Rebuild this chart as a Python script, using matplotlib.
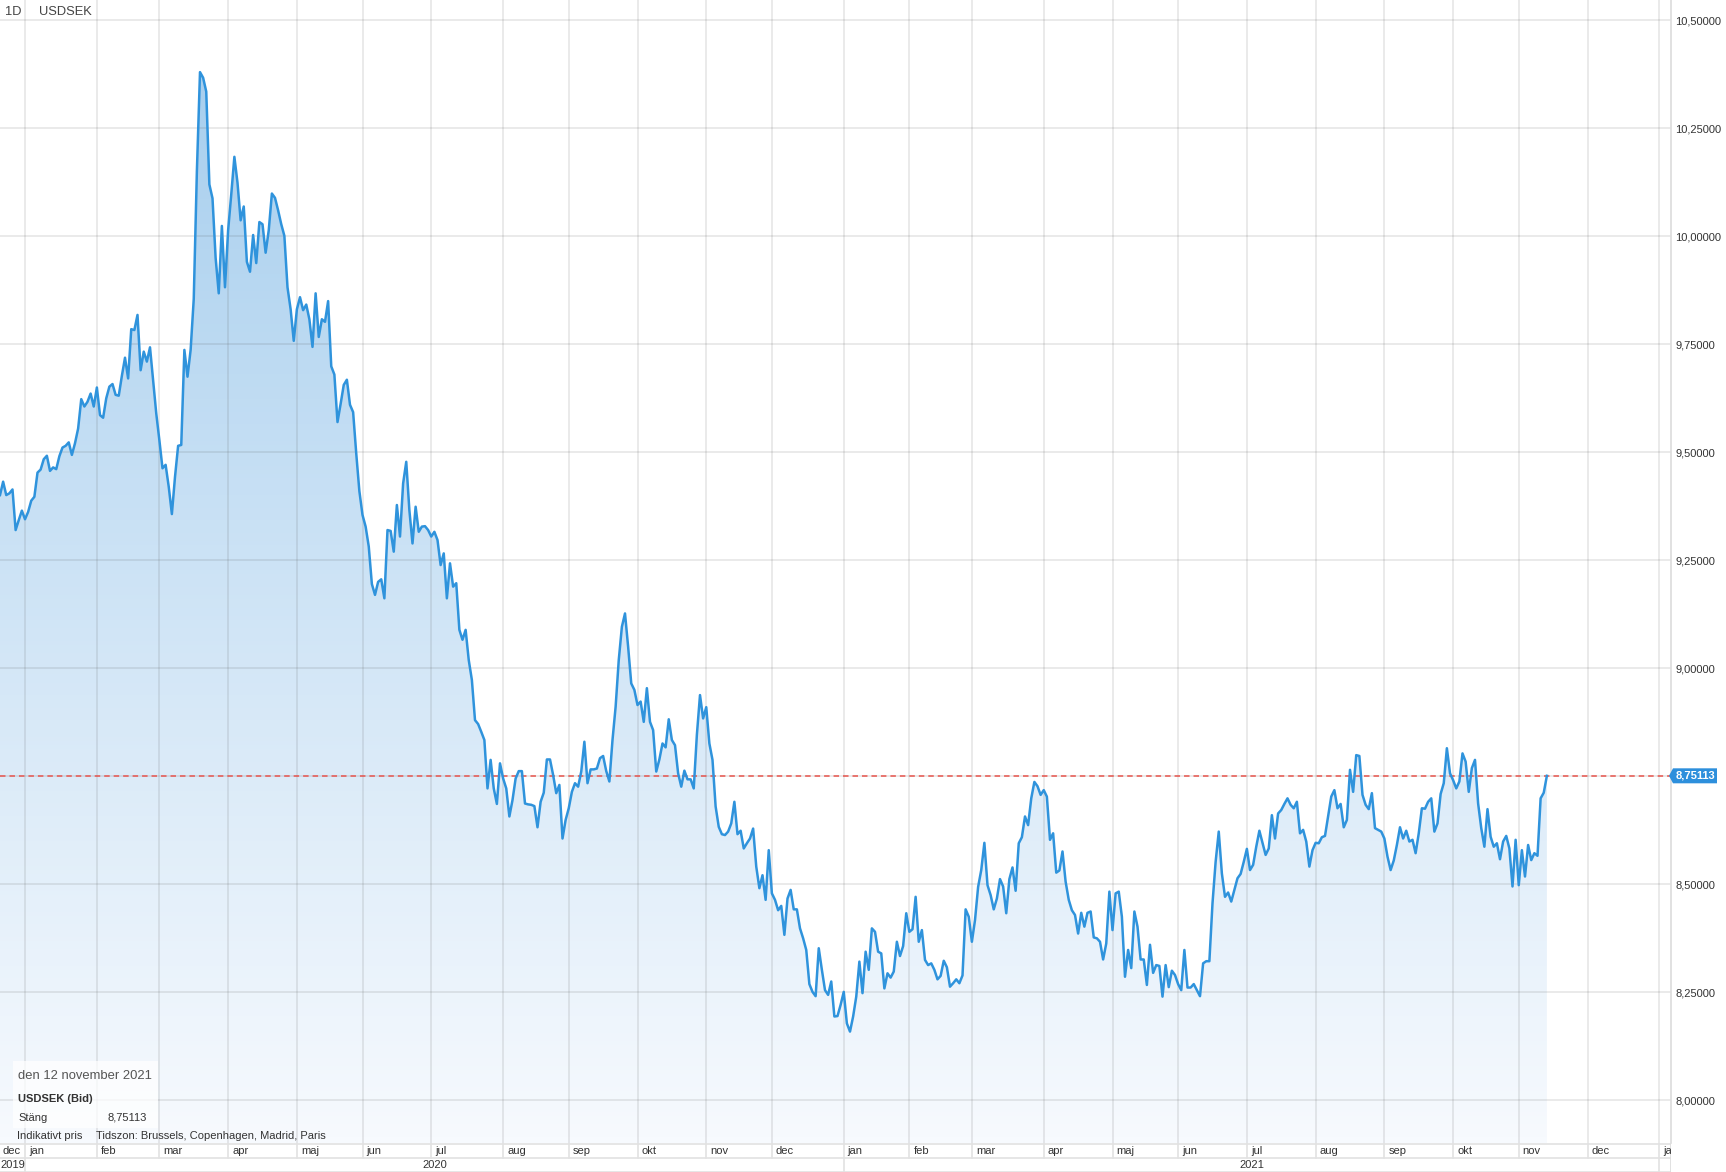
import numpy as np
import pandas as pd
import matplotlib
matplotlib.use("Agg")
import matplotlib.pyplot as plt
from matplotlib.colors import LinearSegmentedColormap
from matplotlib.patches import Rectangle, Polygon

plt.rcParams['font.family'] = ['Liberation Sans', 'DejaVu Sans']

# ---------------- data ----------------
start_date = "2019-12-20"
close = [
    9.401, 9.432, 9.401, 9.405, 9.414, 9.320, 9.343, 9.365, 9.345, 9.362,
    9.388, 9.397, 9.453, 9.460, 9.484, 9.492, 9.457, 9.465, 9.461, 9.491,
    9.511, 9.515, 9.523, 9.494, 9.521, 9.555, 9.623, 9.606, 9.617, 9.636,
    9.606, 9.650, 9.586, 9.580, 9.625, 9.652, 9.658, 9.633, 9.631, 9.677,
    9.719, 9.671, 9.785, 9.783, 9.818, 9.690, 9.733, 9.710, 9.743, 9.667,
    9.590, 9.528, 9.463, 9.471, 9.420, 9.357, 9.443, 9.515, 9.517, 9.737,
    9.675, 9.737, 9.855,
    10.15, 10.38, 10.367, 10.335, 10.12, 10.088, 9.950, 9.868, 10.024, 9.882,
    10.014, 10.097, 10.184, 10.124, 10.037, 10.069, 9.941, 9.918, 10.003, 9.938,
    10.033, 10.028, 9.962, 10.014, 10.099, 10.089, 10.060, 10.028, 10.001, 9.882,
    9.831, 9.758, 9.831, 9.859, 9.829, 9.842, 9.808, 9.744, 9.868, 9.767,
    9.808, 9.802, 9.850, 9.699, 9.680, 9.570, 9.612, 9.656, 9.668, 9.610,
    9.593, 9.497, 9.410, 9.355, 9.328, 9.282, 9.195, 9.170, 9.200,
    9.206, 9.162, 9.320, 9.318, 9.270, 9.378, 9.305, 9.428, 9.478, 9.366,
    9.289, 9.374, 9.316, 9.328, 9.329, 9.320, 9.305, 9.316, 9.297, 9.239,
    9.266, 9.162, 9.243, 9.189, 9.197, 9.089, 9.066, 9.089, 9.019, 8.973,
    8.880, 8.871, 8.853, 8.834, 8.722, 8.788, 8.722, 8.686, 8.780, 8.745,
    8.722, 8.657, 8.695, 8.745, 8.762, 8.762, 8.687, 8.685, 8.684, 8.681,
    8.632, 8.691, 8.712, 8.789, 8.789, 8.753, 8.711, 8.730, 8.606, 8.649,
    8.676, 8.714, 8.734, 8.726, 8.761, 8.830, 8.734, 8.766, 8.766, 8.768,
    8.792, 8.797, 8.762, 8.738, 8.834, 8.911, 9.019, 9.096, 9.127, 9.050,
    8.965, 8.950, 8.915, 8.923, 8.876, 8.954, 8.876, 8.857, 8.761, 8.789,
    8.826, 8.817, 8.882, 8.834, 8.822, 8.757,
    8.726, 8.763, 8.743, 8.743, 8.722, 8.846, 8.938, 8.884, 8.910, 8.826,
    8.788, 8.680, 8.633, 8.616, 8.614, 8.622, 8.641, 8.691, 8.616, 8.624,
    8.583, 8.595, 8.606, 8.629, 8.541, 8.491, 8.521, 8.464, 8.579, 8.479,
    8.464, 8.440, 8.450, 8.383, 8.467, 8.487, 8.442, 8.442, 8.398, 8.375,
    8.348, 8.269, 8.251, 8.241, 8.352, 8.302, 8.255, 8.244, 8.275, 8.194,
    8.195, 8.221, 8.251, 8.178, 8.159, 8.194, 8.240, 8.321, 8.248, 8.344,
    8.302, 8.398, 8.390, 8.344, 8.340, 8.259, 8.294, 8.284, 8.298, 8.367,
    8.334, 8.357, 8.433, 8.390, 8.396, 8.471, 8.367, 8.394, 8.325, 8.313,
    8.317, 8.302, 8.280, 8.288, 8.323, 8.308, 8.263, 8.271, 8.280, 8.271,
    8.289, 8.442, 8.425, 8.367, 8.417, 8.494, 8.533, 8.596, 8.498, 8.475,
    8.442, 8.467, 8.512, 8.495, 8.433, 8.512, 8.539, 8.485, 8.595, 8.609,
    8.657, 8.637, 8.699, 8.737, 8.727, 8.707, 8.718, 8.703, 8.603, 8.618,
    8.527, 8.532, 8.576, 8.506, 8.464, 8.440, 8.429, 8.386, 8.434, 8.402,
    8.434,
    8.437, 8.377, 8.375, 8.367, 8.326, 8.363, 8.483, 8.394, 8.479, 8.483,
    8.425, 8.286, 8.348, 8.306, 8.437, 8.402, 8.326, 8.326, 8.267, 8.360,
    8.295, 8.313, 8.311, 8.240, 8.313, 8.262, 8.300, 8.290, 8.269, 8.255,
    8.348, 8.261, 8.261, 8.269, 8.255, 8.241, 8.317, 8.322, 8.322, 8.456,
    8.552, 8.622, 8.525, 8.471, 8.481, 8.460, 8.487, 8.514, 8.524, 8.552,
    8.582, 8.533, 8.545, 8.587, 8.624, 8.596, 8.568, 8.583, 8.660, 8.606,
    8.664, 8.672, 8.686, 8.699, 8.684, 8.676, 8.691, 8.618, 8.626, 8.599,
    8.541, 8.579, 8.596, 8.595, 8.609, 8.612, 8.657, 8.703, 8.718, 8.676,
    8.686, 8.632, 8.649, 8.765, 8.714, 8.799, 8.797, 8.707, 8.684, 8.674,
    8.711, 8.630, 8.626, 8.622, 8.606, 8.564, 8.533, 8.555, 8.591, 8.632,
    8.606, 8.624, 8.599, 8.603, 8.572, 8.618, 8.676, 8.675, 8.691, 8.699,
    8.622, 8.641, 8.709, 8.734, 8.815, 8.757, 8.741, 8.722, 8.738, 8.803,
    8.784, 8.714, 8.769, 8.788, 8.687, 8.630, 8.587, 8.674, 8.610, 8.587,
    8.595, 8.558, 8.599, 8.612, 8.583, 8.495, 8.603, 8.498, 8.579, 8.518,
    8.591, 8.556, 8.572, 8.566, 8.699, 8.712, 8.75113,
]
month_names = ["jan", "feb", "mar", "apr", "maj", "jun", "jul", "aug", "sep", "okt", "nov", "dec"]
y_ticks = [8.0, 8.25, 8.5, 8.75, 9.0, 9.25, 9.5, 9.75, 10.0, 10.25, 10.5]
symbol = "USDSEK"
interval = "1D"
info_date = "den 12 november 2021"
info_name = "USDSEK (Bid)"
info_label = "Stäng"
footer_left = "Indikativt pris"
footer_right = "Tidszon: Brussels, Copenhagen, Madrid, Paris"

# ---------------- layout ----------------
W, H = 1726, 1172
fig = plt.figure(figsize=(W / 100, H / 100), dpi=100)
fig.patch.set_facecolor("white")

PX_PER_DAY = 3.125
PLOT_R = 1671
PLOT_B = 1143
Y0_PX, PX_PER_UNIT = 20.3, 432.0

def fx(px):
    return px / W

def fy(py):
    return 1 - py / H

x = np.arange(len(close))
last = close[-1]
full_dates = pd.bdate_range(start_date, "2022-01-31")

ymax = 10.5 + Y0_PX / PX_PER_UNIT
ymin = 10.5 - (PLOT_B - Y0_PX) / PX_PER_UNIT
xmax = PLOT_R / PX_PER_DAY

ax = fig.add_axes([0, fy(PLOT_B), fx(PLOT_R), PLOT_B / H])
ax.set_xlim(0, xmax)
ax.set_ylim(ymin, ymax)
ax.set_facecolor("white")

# gradient fill under the line
cmap = LinearSegmentedColormap.from_list("g", ["#f7fafe", "#a8cfee"])
grad = np.linspace(0, 1, 256).reshape(-1, 1)
im = ax.imshow(grad, extent=[0, x[-1], ymin, max(close)], origin="lower",
               aspect="auto", cmap=cmap, zorder=1, interpolation="bilinear")
verts = np.vstack([[0, ymin], np.column_stack([x, close]), [x[-1], ymin]])
clip = Polygon(verts, closed=True, transform=ax.transData,
               facecolor="none", edgecolor="none")
ax.add_patch(clip)
im.set_clip_path(clip)

# grid
grid_col = (0.35, 0.35, 0.35, 0.15)
for v in y_ticks:
    ax.axhline(v, color=grid_col, lw=1.2, zorder=2)

month_pos = []
for yr in (2020, 2021, 2022):
    for m in range(1, 13):
        if yr == 2022 and m > 1:
            break
        p = int(np.searchsorted(full_dates, pd.Timestamp(yr, m, 1)))
        month_pos.append((p, month_names[m - 1], yr, m))
for p, _, _, _ in month_pos:
    ax.axvline(p, color=grid_col, lw=1.2, zorder=2)

# last-price line
ax.axhline(last, color="#e8554d", lw=1.1, dashes=(3.6, 2.6), zorder=3)

# series line
ax.plot(x, close, color="#2f93dc", lw=1.8, zorder=4, solid_joinstyle="round")

# axes styling
for s in ("left", "top", "bottom"):
    ax.spines[s].set_visible(False)
ax.spines["right"].set_color("#dcdcdc")
ax.spines["right"].set_linewidth(1.2)
ax.set_xticks([])
ax.yaxis.tick_right()
ax.set_yticks(y_ticks)
ax.set_yticklabels([f"{v:.5f}".replace(".", ",") for v in y_ticks])
ax.tick_params(axis="y", length=0, pad=3, labelsize=8, labelcolor="#333333")

# header
fig.text(fx(5), fy(12), interval, fontsize=9.3, color="#444444", va="center", ha="left")
fig.text(fx(39), fy(12), symbol, fontsize=9.3, color="#444444", va="center", ha="left")

# info box
fig.add_artist(Rectangle((fx(13), fy(1128)), fx(145), (1128 - 1061) / H,
                         transform=fig.transFigure, facecolor="white",
                         alpha=0.72, edgecolor="none", zorder=5))
fig.text(fx(18), fy(1076), info_date, fontsize=9.4, color="#555555", va="center", zorder=6)
fig.text(fx(18), fy(1099), info_name, fontsize=8, color="#333333", va="center",
         fontweight="bold", zorder=6)
fig.text(fx(18), fy(1118), info_label, fontsize=8, color="#333333", va="center", zorder=6)
fig.text(fx(107), fy(1118), f"{last:.5f}".replace(".", ","), fontsize=8,
         color="#333333", va="center", zorder=6)
fig.text(fx(17), fy(1136), footer_left, fontsize=8, color="#333333", va="center", zorder=6)
fig.text(fx(96), fy(1136), footer_right, fontsize=8, color="#333333", va="center", zorder=6)

# price tag
tag_y = Y0_PX + (10.5 - last) * PX_PER_UNIT
fig.add_artist(Polygon([[fx(1669), fy(tag_y)], [fx(1673), fy(tag_y - 7.5)],
                        [fx(1717), fy(tag_y - 7.5)], [fx(1717), fy(tag_y + 7.5)],
                        [fx(1673), fy(tag_y + 7.5)]], closed=True,
                       transform=fig.transFigure, facecolor="#2d8fdc",
                       edgecolor="none", zorder=7))
fig.text(fx(1695), fy(tag_y), f"{last:.5f}".replace(".", ","), fontsize=8,
         color="white", fontweight="bold", va="center", ha="center", zorder=8)

# bottom date rows
axb = fig.add_axes([0, 0, fx(PLOT_R), (H - PLOT_B) / H])
axb.set_xlim(0, xmax)
axb.set_ylim(H - PLOT_B, 0)
axb.axis("off")
line_col = "#e2e2e2"
for yy in (0.5, 14.5, 28.5):
    axb.axhline(yy, color=line_col, lw=1.2)
axb.axvline(xmax - 0.1, color="#dcdcdc", lw=1.2)
for p, name, yr, m in month_pos:
    axb.plot([p, p], [0, 14.5], color=line_col, lw=1.2)
    axb.text(p + 4 / PX_PER_DAY, 7.5, name, fontsize=8, color="#333333",
             va="center", ha="left", clip_on=True)
axb.text(2 / PX_PER_DAY, 7.5, "dec", fontsize=8, color="#333333", va="center", ha="left")
jan_pos = {yr: p for p, name, yr, m in month_pos if m == 1}
for yr in (2020, 2021, 2022):
    axb.plot([jan_pos[yr], jan_pos[yr]], [14.5, 29], color=line_col, lw=1.2)
axb.text(0, 22, "2019", fontsize=8, color="#333333", va="center", ha="left")
axb.text((jan_pos[2020] + jan_pos[2021]) / 2, 22, "2020", fontsize=8,
         color="#333333", va="center", ha="center")
axb.text((jan_pos[2021] + jan_pos[2022]) / 2, 22, "2021", fontsize=8,
         color="#333333", va="center", ha="center")

fig.savefig("out.png", dpi=100, facecolor="white")
